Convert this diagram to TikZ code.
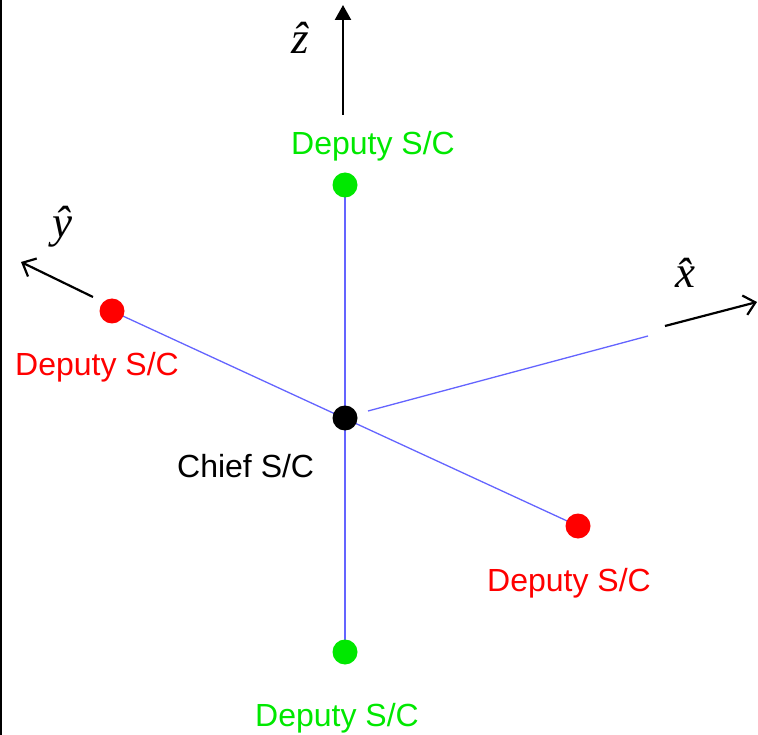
\documentclass[tikz,border=0pt]{standalone}
\usepackage{fontspec}
\setmainfont{Liberation Sans}
\newfontfamily\hatserif{Liberation Serif}
\usetikzlibrary{arrows.meta}
\definecolor{dgreen}{RGB}{0,232,0}
\definecolor{dred}{RGB}{255,0,0}
\definecolor{lblue}{RGB}{100,100,255}
\tikzset{
  dot/.style={circle,inner sep=0pt,minimum size=25pt},
  lbl/.style={inner sep=0pt,anchor=base west,font=\fontsize{32}{38}\selectfont},
  link/.style={draw=lblue,line width=1.3pt},
  axisline/.style={draw=black,line width=2.4pt},
  hatlbl/.style={inner sep=0pt,font=\hatserif\itshape\fontsize{45}{50}\selectfont}
}
\begin{document}
\begin{tikzpicture}[x=1pt,y=-1pt]
\useasboundingbox (0,0) rectangle (758,735);
\fill[black] (0,0) rectangle (2,735);
% positions
\coordinate (cC) at (345,418);
\coordinate (cGt) at (345,185);
\coordinate (cGb) at (345,652);
\coordinate (cRl) at (112,311);
\coordinate (cRr) at (578,526);
\coordinate (xs) at (368,411);
\coordinate (xe) at (648,336);
% blue links
\draw[link] (cGt) -- (cGb);
\draw[link] (cRl) -- (cRr);
\draw[link] (xs) -- (xe);
% dots
\node[dot,fill=black] (chief) at (cC) {};
\node[dot,fill=dgreen] (gtop) at (cGt) {};
\node[dot,fill=dgreen] (gbot) at (cGb) {};
\node[dot,fill=dred] (rleft) at (cRl) {};
\node[dot,fill=dred] (rright) at (cRr) {};
% axes
\coordinate (zs) at (343,115);
\coordinate (ze) at (343,5);
\draw[axisline,-{Triangle[length=15pt,width=16pt]}] (zs) -- (ze);
\coordinate (ys) at (93,297);
\coordinate (ye) at (21,262);
\draw[axisline,line width=2.2pt,-{Straight Barb[length=11pt,width=20pt]}] (ys) -- (ye);
\coordinate (xas) at (665,326);
\coordinate (xae) at (757,302);
\draw[axisline,line width=2.2pt,-{Straight Barb[length=11pt,width=20pt]}] (xas) -- (xae);
\node[hatlbl] (zl) at (300,38) {\^{z}};
\node[hatlbl] (yl) at (62,227) {\^{y}};
\node[hatlbl] (xl) at (685,273) {\^{x}};
% labels
\node[lbl,text=dgreen] (tgt) at (291,155) {Deputy S/C};
\node[lbl,text=dred] (trl) at (15,375) {Deputy S/C};
\node[lbl,text=black] (tch) at (177,477) {Chief S/C};
\node[lbl,text=dred] (trr) at (487,591) {Deputy S/C};
\node[lbl,text=dgreen] (tgb) at (255,726) {Deputy S/C};
\end{tikzpicture}
\end{document}
